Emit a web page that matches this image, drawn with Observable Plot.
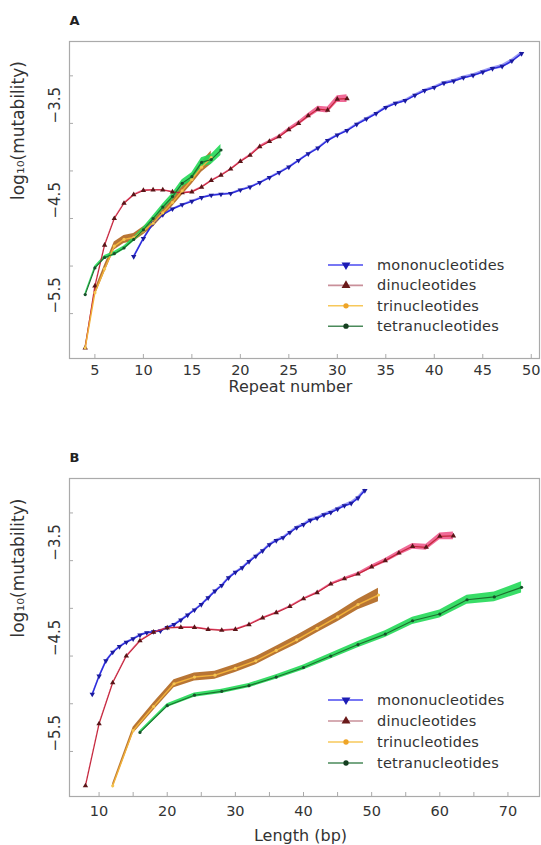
<!DOCTYPE html>
<html><head><meta charset="utf-8">
<script src="https://cdn.jsdelivr.net/npm/d3@7"></script>
<script src="https://cdn.jsdelivr.net/npm/@observablehq/plot@0.6"></script>
<style>body{margin:0;background:#fff;}</style>
</head><body><div id="chart"></div>
<script>
// ---- data (log10 mutability by repeat number) ----
const seriesNames = ["mononucleotides", "dinucleotides", "trinucleotides", "tetranucleotides"];
const motifLength = [1, 2, 3, 4];

const monoRepeats = [9,10,11,12,13,14,15,16,17,18,19,20,21,22,23,24,25,26,27,28,29,30,31,32,33,34,35,36,37,38,39,40,41,42,43,44,45,46,47,48,49];
const monoValues = [-4.90,-4.71,-4.55,-4.46,-4.40,-4.355,-4.32,-4.28,-4.255,-4.245,-4.237,-4.20,-4.17,-4.123,-4.07,-4.017,-3.96,-3.89,-3.82,-3.76,-3.68,-3.623,-3.575,-3.51,-3.454,-3.397,-3.333,-3.29,-3.26,-3.205,-3.155,-3.122,-3.077,-3.055,-3.02,-2.995,-2.96,-2.924,-2.90,-2.844,-2.766];
const monoCI = [0.01,0.008,0.008,0.008,0.008,0.008,0.008,0.008,0.008,0.008,0.008,0.008,0.008,0.008,0.008,0.008,0.009,0.009,0.009,0.01,0.01,0.01,0.011,0.011,0.012,0.012,0.013,0.013,0.014,0.014,0.015,0.015,0.016,0.016,0.017,0.017,0.018,0.018,0.019,0.02,0.02];

const diRepeats = [4,5,6,7,8,9,10,11,12,13,14,15,16,17,18,19,20,21,22,23,24,25,26,27,28,29,30,31];
const diValues = [-5.86,-5.21,-4.78,-4.50,-4.34,-4.25,-4.205,-4.20,-4.20,-4.22,-4.23,-4.22,-4.17,-4.10,-4.045,-3.98,-3.90,-3.835,-3.745,-3.69,-3.64,-3.565,-3.50,-3.42,-3.35,-3.36,-3.245,-3.24];
const diCI = [0.006,0.006,0.006,0.006,0.006,0.006,0.006,0.006,0.006,0.006,0.006,0.006,0.006,0.006,0.006,0.006,0.008,0.01,0.012,0.014,0.016,0.02,0.022,0.025,0.03,0.032,0.035,0.04];

const triRepeats = [4,5,6,7,8,9,10,11,12,13,14,15,16,17];
const triValues = [-5.86,-5.28,-5.03,-4.79,-4.72,-4.70,-4.63,-4.55,-4.44,-4.33,-4.21,-4.09,-3.96,-3.86];
const triCI = [0.025,0.035,0.04,0.042,0.042,0.042,0.042,0.042,0.042,0.045,0.045,0.05,0.055,0.07];

const tetraRepeats = [4,5,6,7,8,9,10,11,12,13,14,15,16,17,18];
const tetraValues = [-5.30,-5.02,-4.91,-4.87,-4.81,-4.72,-4.62,-4.50,-4.38,-4.27,-4.13,-4.06,-3.91,-3.88,-3.78];
const tetraCI = [0.018,0.02,0.022,0.022,0.022,0.024,0.027,0.03,0.032,0.035,0.038,0.042,0.048,0.052,0.058];

// ---- tick labels ----
const xTicksA = [5,10,15,20,25,30,35,40,45,50];
const xTicksB = [10,20,30,40,50,60,70];
const xMinorB = [10,15,20,25,30,35,40,45,50,55,60,65,70];
const yTickMarks = [-3.0,-3.5,-4.0,-4.5,-5.0,-5.5];
const yTickLabelValues = [-3.5,-4.5,-5.5];
const yTickLabels = ["\u22123.5","\u22124.5","\u22125.5"];

// ---- styles ----
const styles = [
  {band:"#8f8ff2", line:"#2b2bdc", dot:"#1a1a9e", symbol:"down", lw:1.5, legLine:"#4a4af0", legDot:"#1c1cb4"},
  {band:"#ee5a8c", line:"#c4283c", dot:"#5a1518", symbol:"triangle", lw:1.2, legLine:"#c9909a", legDot:"#6a1a1a"},
  {band:"#b0661e", line:"#f2b23a", dot:"#f5c552", symbol:"circle", lw:1.4, legLine:"#f7c85a", legDot:"#eea428"},
  {band:"#22d956", line:"#1d6e2e", dot:"#17502a", symbol:"circle", lw:1.1, legLine:"#4a8a5a", legDot:"#153f20"}
];
const triangleDown = {
  draw(context, size) {
    const y = -Math.sqrt(size / (Math.sqrt(3) * 3));
    context.moveTo(0, -y * 2);
    context.lineTo(-Math.sqrt(3) * y, y);
    context.lineTo(Math.sqrt(3) * y, y);
    context.closePath();
  }
};

const raw = [
  [monoRepeats, monoValues, monoCI],
  [diRepeats, diValues, diCI],
  [triRepeats, triValues, triCI],
  [tetraRepeats, tetraValues, tetraCI]
];
const series = raw.map(([reps, vals, ci], k) => reps.map((r, i) => ({
  series: seriesNames[k], repeat: r, length: r * motifLength[k],
  value: vals[i], lo: vals[i] - ci[i], hi: vals[i] + ci[i]
})));

const FONT = "'DejaVu Sans', sans-serif";

function panel(cfg) {
  const W = 541, ml = 69, mr = 2;
  const innerW = W - ml - mr;
  const innerH = cfg.height - cfg.mt - cfg.mb;
  const marks = [];
  series.forEach((rows, k) => marks.push(Plot.areaY(rows, {x: cfg.xKey, y1: "lo", y2: "hi", fill: styles[k].band, fillOpacity: 0.9, curve: "linear"})));
  series.forEach((rows, k) => {
    const st = styles[k];
    marks.push(Plot.line(rows, {x: cfg.xKey, y: "value", stroke: st.line, strokeWidth: st.lw}));
    marks.push(Plot.dot(rows, {x: cfg.xKey, y: "value", r: st.symbol === "circle" ? 1.6 : 2.0,
      symbol: st.symbol === "down" ? triangleDown : st.symbol, fill: st.dot, stroke: "none"}));
  });
  const svg = Plot.plot({
    width: W, height: cfg.height,
    marginLeft: ml, marginRight: mr, marginTop: cfg.mt, marginBottom: cfg.mb,
    style: {fontFamily: FONT, fontSize: "15px", color: "#333", background: "#fff"},
    x: {domain: cfg.xDomain, axis: null},
    y: {domain: [-5.972, -2.639], axis: null},
    marks: [
      Plot.tickX(cfg.xMinor, {x: d => d, insetTop: innerH - 4, stroke: "#aaa"}),
      Plot.tickY(yTickMarks, {y: d => d, insetRight: innerW - 4, stroke: "#aaa"}),
      ...marks,
      Plot.frame({stroke: "#aaa", strokeWidth: 1.2}),
      Plot.axisX(cfg.xTicks, {tickSize: 0, tickPadding: cfg.tickPad, fontSize: 14.5, label: null, fill: "#333"}),
      Plot.text(yTickLabelValues, {y: d => d, text: (d, i) => yTickLabels[i], frameAnchor: "left", dx: -14, rotate: -90, fontSize: 15, fill: "#333"}),
      Plot.text(["log\u2081\u2080(mutability)"], {frameAnchor: "left", dx: -51, rotate: -90, fontSize: 17, fill: "#333"}),
      Plot.text([cfg.title], {frameAnchor: "bottom", dx: cfg.titleDx, dy: cfg.titleDy, lineAnchor: "middle", fontSize: 16, fill: "#333"}),
      Plot.text([cfg.letter], {frameAnchor: "top-left", dx: 5, dy: -21, lineAnchor: "middle", fontSize: 13, fontWeight: "bold", textAnchor: "middle", fill: "#222"})
    ]
  });
  // legend
  const g = d3.select(svg).append("g").attr("font-family", FONT).attr("font-size", 14.5).attr("fill", "#333").attr("text-anchor", "start");
  seriesNames.forEach((name, k) => {
    const st = styles[k];
    const y = cfg.legendY + k * cfg.legendStep;
    g.append("line").attr("x1", 328).attr("x2", 363).attr("y1", y).attr("y2", y).attr("stroke", st.legLine).attr("stroke-width", 1.6);
    const sym = st.symbol === "down" ? triangleDown : st.symbol === "triangle" ? d3.symbolTriangle : d3.symbolCircle;
    g.append("path").attr("d", d3.symbol(sym, st.symbol === "circle" ? 22 : 34)()).attr("transform", `translate(346,${y})`).attr("fill", st.legDot);
    g.append("text").attr("x", 377).attr("y", y).attr("dy", "0.35em").attr("letter-spacing", 0.2).text(name);
  });
  return svg;
}

const root = document.getElementById("chart");
root.appendChild(panel({xKey: "repeat", xDomain: [2.38, 50.85], xTicks: xTicksA, xMinor: xTicksA,
  height: 400, mt: 41, mb: 42, tickPad: 6, title: "Repeat number", titleDx: -14, titleDy: 28, letter: "A", legendY: 265, legendStep: 20.4}));
root.appendChild(panel({xKey: "length", xDomain: [5.66, 74.63], xTicks: xTicksB, xMinor: xMinorB,
  height: 445, mt: 78, mb: 49, tickPad: 9, title: "Length (bp)", titleDx: -4, titleDy: 39, letter: "B", legendY: 300, legendStep: 21}));
</script></body></html>
